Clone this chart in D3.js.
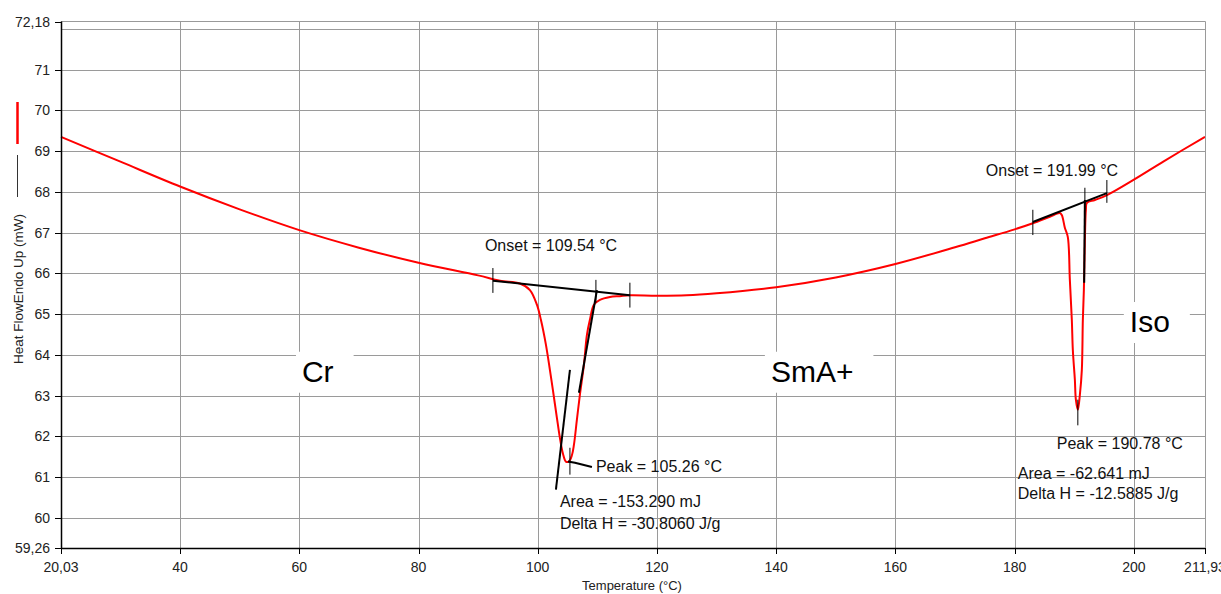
<html>
<head>
	<script src="https://d3js.org/d3.v7.min.js"></script>
</head>
<body style="margin:0; padding:0; background:#fff;">
	<script>
	// DSC cooling trace - heat flow vs temperature
	var temps = [20.03, 30, 40, 50, 60, 70, 80, 90, 93.66, 97.01, 98.69, 99.86, 100.53, 101.37, 102.04, 102.54,
		103.21, 103.71, 104.22, 104.72, 105.22, 105.72, 106.07, 106.57, 107.07, 107.74, 108.25, 108.75, 109.42,
		110.43, 112.11, 113.78, 115.46, 120, 125, 130, 140, 150, 160, 170, 175, 180, 183.05, 185.9, 187.58, 187.91,
		188.42, 188.92, 189.26, 189.59, 189.76, 190.10, 190.27, 190.60, 190.94, 191.27, 191.44, 191.61, 191.78,
		191.95, 192.12, 193.46, 195.47, 200, 205, 211.93];
	var heatFlow = [69.35, 68.74, 68.13, 67.57, 67.06, 66.63, 66.26, 65.95, 65.82, 65.75, 65.59, 65.23, 64.86, 64.25, 63.63, 63.14,
		62.46, 61.97, 61.58, 61.38, 61.38, 61.53, 61.79, 62.41, 63.02, 63.75, 64.49, 64.86, 65.23,
		65.35, 65.42, 65.44, 65.46, 65.45, 65.46, 65.51, 65.66, 65.90, 66.23, 66.64, 66.86, 67.08, 67.23, 67.39, 67.48, 67.43,
		67.12, 66.89, 65.84, 64.86, 64.12, 63.39, 62.90, 62.65, 63.02, 63.63, 64.86, 65.59, 66.82,
		67.56, 67.73, 67.80, 67.92, 68.30, 68.75, 69.35];

	var xTicks = [20.03, 40, 60, 80, 100, 120, 140, 160, 180, 200, 211.93];
	var xTickLabels = ["20,03", "40", "60", "80", "100", "120", "140", "160", "180", "200", "211,93"];
	var yTicks = [59.26, 60, 61, 62, 63, 64, 65, 66, 67, 68, 69, 70, 71, 72.18];
	var yTickLabels = ["59,26", "60", "61", "62", "63", "64", "65", "66", "67", "68", "69", "70", "71", "72,18"];
	var yGrid = [60, 61, 62, 63, 64, 65, 66, 67, 68, 69, 70, 71, 72];

	// analysis construction lines (temp, heat flow)
	var baseLines = [
		[[92.48, 65.82], [115.46, 65.46]],
		[[183.05, 67.26], [195.47, 67.97]]
	];
	var tangents = [
		[[103.05, 60.69], [105.40, 63.63]],
		[[109.93, 65.59], [106.91, 63.07]],
		[[191.78, 67.80], [191.66, 65.77]],
		[[105.06, 61.38], [106.24, 61.35], [109.09, 61.25]]
	];
	// small vertical markers: temp, top, bottom
	var markers = [
		[92.48, 66.13, 65.52], [109.76, 65.84, 65.28], [115.46, 65.77, 65.16], [105.40, 61.72, 61.06],
		[183.05, 67.56, 66.94], [191.78, 68.10, 67.68], [195.47, 68.29, 67.73], [190.60, 62.90, 62.27]
	];

	var notes = ["Onset = 109.54 °C", "Peak = 105.26 °C", "Area = -153.290 mJ", "Delta H = -30.8060 J/g",
		"Onset = 191.99 °C", "Peak = 190.78 °C", "Area = -62.641 mJ", "Delta H = -12.5885 J/g"];
	var notesAt = [[91.14, 66.55], [109.76, 61.13], [103.72, 60.27], [103.72, 59.73],
		[175.17, 68.39], [187.07, 61.69], [180.53, 60.96], [180.53, 60.47]];

	var phases = ["Cr", "SmA+", "Iso"];
	var phasesAt = [[60.45, 63.34], [139.11, 63.34], [199.32, 64.56]];

	var width = 1221, height = 594;
	var pLeft = 61, pRight = 1205, pTop = 21.5, pBottom = 548;
	var font = "'Liberation Sans', Arial, sans-serif";

	var x = d3.scaleLinear().domain([20.03, 211.93]).range([pLeft, pRight]);
	var y = d3.scaleLinear().domain([59.26, 72.18]).range([pBottom, pTop]);

	var svg = d3.select("body").append("svg")
		.attr("width", width)
		.attr("height", height)
		.style("font-family", font);

	// grid
	svg.selectAll("line.gy").data(yGrid).enter().append("line")
		.attr("x1", pLeft).attr("x2", pRight)
		.attr("y1", function (d) { return Math.round(y(d)) + 0.5; })
		.attr("y2", function (d) { return Math.round(y(d)) + 0.5; })
		.attr("stroke", "#9a9a9a");
	svg.selectAll("line.gx").data(xTicks.slice(1)).enter().append("line")
		.attr("x1", function (d) { return Math.round(x(d)) + 0.5; })
		.attr("x2", function (d) { return Math.round(x(d)) + 0.5; })
		.attr("y1", pTop).attr("y2", pBottom)
		.attr("stroke", "#9a9a9a");
	svg.append("line").attr("x1", pLeft).attr("x2", pRight).attr("y1", pTop).attr("y2", pTop).attr("stroke", "#9a9a9a");

	// phase labels on white boxes
	phases.forEach(function (p, i) {
		var t = svg.append("text")
			.attr("x", x(phasesAt[i][0])).attr("y", y(phasesAt[i][1]))
			.attr("font-size", 30).attr("fill", "#000").text(p);
		var b = t.node().getBBox();
		svg.insert("rect", "text")
			.attr("x", b.x - 6).attr("y", b.y - 3)
			.attr("width", b.width + 26).attr("height", b.height + 8)
			.attr("fill", "#fff");
	});

	// curve
	var pts = temps.map(function (t, i) { return [t, heatFlow[i]]; });
	var line = d3.line()
		.x(function (d) { return x(d[0]); })
		.y(function (d) { return y(d[1]); });
	svg.append("path").datum(pts)
		.attr("d", line.curve(d3.curveCatmullRom.alpha(0.5)))
		.attr("fill", "none").attr("stroke", "#ff0000").attr("stroke-width", 2);

	var straight = d3.line()
		.x(function (d) { return x(d[0]); })
		.y(function (d) { return y(d[1]); });
	svg.selectAll("path.base").data(baseLines.concat(tangents)).enter().append("path")
		.attr("d", straight)
		.attr("fill", "none").attr("stroke", "#000").attr("stroke-width", 2);
	svg.selectAll("line.mk").data(markers).enter().append("line")
		.attr("x1", function (d) { return x(d[0]); })
		.attr("x2", function (d) { return x(d[0]); })
		.attr("y1", function (d) { return y(d[1]); })
		.attr("y2", function (d) { return y(d[2]); })
		.attr("stroke", "#000").attr("stroke-width", 1);

	svg.selectAll("text.note").data(notes).enter().append("text")
		.attr("x", function (d, i) { return x(notesAt[i][0]); })
		.attr("y", function (d, i) { return y(notesAt[i][1]); })
		.attr("font-size", 16).attr("fill", "#111")
		.text(function (d) { return d; });

	// axes
	svg.append("line").attr("x1", pLeft + 0.5).attr("x2", pLeft + 0.5).attr("y1", pTop).attr("y2", pBottom)
		.attr("stroke", "#000").attr("stroke-width", 1.5);
	svg.append("line").attr("x1", pLeft).attr("x2", pRight).attr("y1", pBottom + 0.5).attr("y2", pBottom + 0.5)
		.attr("stroke", "#000").attr("stroke-width", 1.5);
	svg.append("line").attr("x1", pRight + 0.5).attr("x2", pRight + 0.5).attr("y1", pTop).attr("y2", pBottom)
		.attr("stroke", "#9a9a9a");

	svg.selectAll("line.yt").data(yTicks).enter().append("line")
		.attr("x1", pLeft - 6).attr("x2", pLeft)
		.attr("y1", function (d) { return Math.round(y(d)) + 0.5; })
		.attr("y2", function (d) { return Math.round(y(d)) + 0.5; })
		.attr("stroke", "#000");
	svg.selectAll("text.yl").data(yTicks).enter().append("text")
		.attr("x", pLeft - 11)
		.attr("y", function (d) { return y(d) + 5; })
		.attr("text-anchor", "end").attr("font-size", 14).attr("fill", "#222")
		.text(function (d, i) { return yTickLabels[i]; });

	svg.selectAll("line.xt").data(xTicks).enter().append("line")
		.attr("x1", function (d) { return Math.round(x(d)) + 0.5; })
		.attr("x2", function (d) { return Math.round(x(d)) + 0.5; })
		.attr("y1", pBottom).attr("y2", pBottom + 6)
		.attr("stroke", "#000");
	svg.selectAll("text.xl").data(xTicks).enter().append("text")
		.attr("x", function (d) { return x(d); })
		.attr("y", pBottom + 24)
		.attr("text-anchor", "middle").attr("font-size", 14).attr("fill", "#222")
		.text(function (d, i) { return xTickLabels[i]; });

	svg.append("text")
		.attr("x", (pLeft + pRight) / 2 - 1).attr("y", 590)
		.attr("text-anchor", "middle").attr("font-size", 13).attr("fill", "#222")
		.text("Temperature (°C)");

	// y title with legend swatches
	svg.append("text")
		.attr("transform", "translate(23,364) rotate(-90)")
		.attr("font-size", 13.5).attr("fill", "#222")
		.text("Heat FlowEndo Up (mW)");
	svg.append("line").attr("x1", 17.5).attr("x2", 17.5).attr("y1", 102).attr("y2", 144)
		.attr("stroke", "#ff0000").attr("stroke-width", 2.5);
	svg.append("line").attr("x1", 17.5).attr("x2", 17.5).attr("y1", 155).attr("y2", 197)
		.attr("stroke", "#333").attr("stroke-width", 1);
	</script>
</body>
</html>
